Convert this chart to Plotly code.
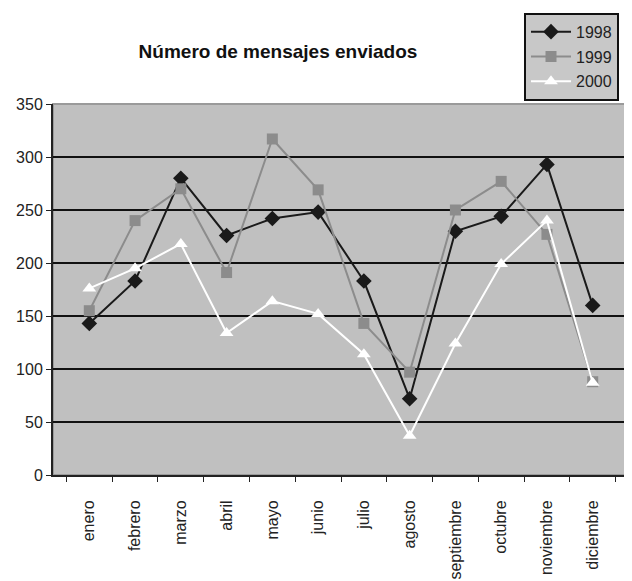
import plotly.graph_objects as go

months = ["enero", "febrero", "marzo", "abril", "mayo", "junio", "julio",
          "agosto", "septiembre", "octubre", "noviembre", "diciembre"]
y1998 = [143, 183, 280, 226, 242, 248, 183, 72, 230, 244, 293, 160]
y1999 = [155, 240, 270, 191, 317, 269, 143, 97, 250, 277, 227, 88]
y2000 = [176, 195, 218, 134, 164, 152, 114, 37, 124, 199, 240, 87]
y_ticks = [0, 50, 100, 150, 200, 250, 300, 350]

fig = go.Figure()
fig.add_trace(go.Scatter(x=months, y=y1998, name="1998", mode="lines+markers",
                         legendgroup="a",
                         line=dict(color="#1a1a1a", width=2),
                         marker=dict(symbol="diamond", size=12, color="#1a1a1a")))
fig.add_trace(go.Scatter(x=months, y=y1999, name="1999", mode="lines+markers",
                         legendgroup="b",
                         line=dict(color="#8c8c8c", width=2),
                         marker=dict(symbol="square", size=11, color="#8c8c8c")))
fig.add_trace(go.Scatter(x=months, y=y2000, name="2000", mode="lines+markers",
                         legendgroup="c",
                         line=dict(color="#ffffff", width=2),
                         marker=dict(symbol="triangle-up", size=12, color="#ffffff")))

W, H = 624, 573  # page body has an 8px margin
fig.update_layout(
    width=W, height=H,
    margin=dict(l=45, r=3, t=96, b=106),
    paper_bgcolor="white",
    plot_bgcolor="#c0c0c0",
    font=dict(family="Liberation Sans, Arial, sans-serif", size=16, color="#222"),
    title=dict(text="<b>Número de mensajes enviados</b>", x=0.3906, xref="paper",
               xanchor="center", y=1 - 43 / H, yanchor="middle",
               font=dict(size=19, color="#111")),
    legend=dict(x=0.8177, y=1.246, xanchor="left", yanchor="top",
                bgcolor="#c8c8c8", bordercolor="#111", borderwidth=2,
                font=dict(size=16, color="#222"), itemwidth=40,
                tracegroupgap=1),
    xaxis=dict(type="category", tickangle=-90, tickson="boundaries",
               ticks="outside", ticklen=5, tickcolor="#222",
               showline=True, linecolor="#222", linewidth=2,
               showgrid=False, tickfont=dict(size=16), ticklabelstandoff=17,
               automargin=False),
    yaxis=dict(range=[0, 350], tickvals=y_ticks, ticks="outside", ticklen=5,
               tickcolor="#222", showline=True, linecolor="#222", linewidth=2,
               gridcolor="#111", gridwidth=2, zeroline=False,
               tickfont=dict(size=16), automargin=False),
    showlegend=True,
)
fig.add_shape(type="rect", xref="paper", yref="paper", x0=0, y0=0, x1=1, y1=1,
              line=dict(color="#9a9a9a", width=2), layer="below")

fig.write_html("out.html")
